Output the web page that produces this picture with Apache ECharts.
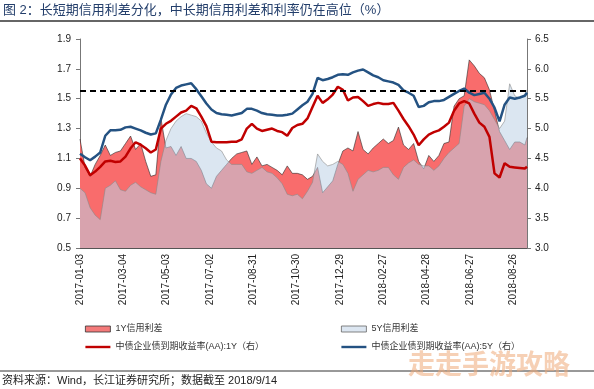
<!DOCTYPE html>
<html><head><meta charset="utf-8">
<script src="https://cdn.jsdelivr.net/npm/echarts@6/dist/echarts.min.js"></script>
<style>html,body{margin:0;padding:0;background:#fff}#c{width:594px;height:389px}</style>
</head><body><div id="c"></div>
<script>
const dates = ['2017-01-03','2017-01-10','2017-01-17','2017-01-24','2017-01-31','2017-02-07','2017-02-14','2017-02-21','2017-02-28','2017-03-07',
'2017-03-14','2017-03-21','2017-03-28','2017-04-04','2017-04-11','2017-04-18','2017-04-25','2017-05-02','2017-05-09','2017-05-16',
'2017-05-23','2017-05-30','2017-06-06','2017-06-13','2017-06-20','2017-06-27','2017-07-04','2017-07-11','2017-07-18','2017-07-25',
'2017-08-01','2017-08-08','2017-08-15','2017-08-22','2017-08-29','2017-09-05','2017-09-12','2017-09-19','2017-09-26','2017-10-03',
'2017-10-10','2017-10-17','2017-10-24','2017-10-31','2017-11-07','2017-11-14','2017-11-21','2017-11-28','2017-12-05','2017-12-12',
'2017-12-19','2017-12-26','2018-01-02','2018-01-09','2018-01-16','2018-01-23','2018-01-30','2018-02-06','2018-02-13','2018-02-20',
'2018-02-27','2018-03-06','2018-03-13','2018-03-20','2018-03-27','2018-04-03','2018-04-10','2018-04-17','2018-04-24','2018-05-01',
'2018-05-08','2018-05-15','2018-05-22','2018-05-29','2018-06-05','2018-06-12','2018-06-19','2018-06-26','2018-07-03','2018-07-10',
'2018-07-17','2018-07-24','2018-07-31','2018-08-07','2018-08-14','2018-08-21','2018-08-28','2018-09-04','2018-09-11','2018-09-14'];

const spread1Y = [1.23,1.04,0.98,1.06,1.12,1.19,1.12,1.14,1.15,1.20,
1.25,1.16,1.20,1.08,0.98,0.99,1.37,1.17,1.18,1.12,
1.18,1.10,1.10,1.08,1.02,0.93,0.90,0.98,1.02,1.06,
1.10,1.13,1.14,1.15,1.06,1.11,1.05,1.06,1.04,1.02,
0.99,1.05,1.00,1.00,0.99,0.96,0.98,1.04,0.87,0.91,
0.95,1.06,1.15,1.17,1.15,1.28,1.16,1.13,1.17,1.20,
1.23,1.20,1.22,1.31,1.19,1.16,1.20,1.08,1.03,1.12,
1.08,1.12,1.20,1.21,1.45,1.50,1.52,1.76,1.72,1.67,
1.64,1.56,1.42,1.28,1.22,1.16,1.21,1.21,1.19,1.24];

const spread5Y = [0.90,0.87,0.77,0.72,0.69,0.90,0.92,0.95,0.89,0.88,
0.92,0.94,0.91,0.89,0.87,0.86,1.08,1.22,1.30,1.35,
1.38,1.40,1.39,1.38,1.35,1.27,1.21,1.17,1.15,1.09,
1.06,1.06,1.06,1.01,1.00,1.02,1.04,1.01,1.00,0.97,
0.93,0.86,0.85,0.86,0.83,0.88,0.94,1.13,1.08,1.05,
1.06,1.08,1.06,1.00,0.88,0.96,0.99,1.02,1.01,1.02,
1.04,1.04,0.99,0.96,1.04,1.07,1.09,1.06,1.05,1.05,
1.02,1.05,1.10,1.14,1.17,1.20,1.45,1.50,1.48,1.47,
1.46,1.42,1.36,1.30,1.35,1.60,1.52,1.50,1.53,1.56];

const yield1Y = [4.50,4.38,4.22,4.28,4.36,4.45,4.46,4.44,4.45,4.53,
4.67,4.77,4.73,4.67,4.60,4.65,5.00,5.08,5.13,5.20,
5.27,5.30,5.38,5.34,5.20,5.04,4.78,4.77,4.77,4.77,
4.78,4.78,4.82,5.00,5.08,5.00,4.96,4.98,5.00,4.96,
4.94,4.88,5.01,5.06,5.08,5.17,5.36,5.55,5.43,5.49,
5.57,5.70,5.65,5.47,5.52,5.53,5.46,5.38,5.41,5.43,
5.41,5.41,5.43,5.30,5.16,5.04,4.90,4.72,4.82,4.90,
4.94,4.97,5.03,5.10,5.30,5.42,5.46,5.42,5.25,5.10,
5.03,4.86,4.25,4.18,4.42,4.36,4.35,4.34,4.33,4.36];

const yield5Y = [4.58,4.52,4.47,4.53,4.60,4.88,4.97,4.97,4.98,5.02,
5.03,5.00,4.97,4.93,4.90,4.92,5.15,5.40,5.57,5.68,
5.72,5.74,5.76,5.66,5.54,5.42,5.32,5.26,5.24,5.23,
5.22,5.24,5.26,5.33,5.33,5.30,5.26,5.24,5.23,5.22,
5.22,5.23,5.25,5.32,5.39,5.45,5.58,5.85,5.81,5.83,
5.86,5.90,5.91,5.90,5.94,5.97,5.99,5.94,5.89,5.86,
5.81,5.79,5.77,5.73,5.64,5.60,5.55,5.36,5.38,5.44,
5.46,5.46,5.48,5.53,5.58,5.63,5.67,5.60,5.56,5.58,
5.60,5.50,5.35,5.12,5.40,5.52,5.50,5.52,5.55,5.60];

const dateTicks = ['2017-01-03','2017-03-04','2017-05-03','2017-07-02','2017-08-31','2017-10-30','2017-12-29','2018-02-27','2018-04-28','2018-06-27','2018-08-26'];
const leftTicks = [0.5,0.7,0.9,1.1,1.3,1.5,1.7,1.9];
const rightTicks = [3.0,3.5,4.0,4.5,5.0,5.5,6.0,6.5];
const refLevel = 1.555;
const seriesNames = ['1Y信用利差','5Y信用利差','中债企业债到期收益率(AA):1Y（右）','中债企业债到期收益率(AA):5Y（右）'];
const titleText = '图 2：长短期信用利差分化，中长期信用利差和利率仍在高位（%）';
const sourceText = '资料来源：Wind，长江证券研究所；数据截至 2018/9/14';
const watermarkText = '走走手游攻略';

const FONT = '"Liberation Sans", "Noto Sans CJK SC", sans-serif';
const DAY = 86400000;
function utc(s){ const p = s.split('-').map(Number); return Date.UTC(p[0], p[1]-1, p[2]); }
const T0 = utc(dates[0]);
function dayIndex(s){ return Math.round((utc(s) - T0) / DAY); }
function fmtDay(v){
  const d = new Date(T0 + Math.round(v) * DAY);
  const p = n => String(n).padStart(2,'0');
  return d.getUTCFullYear() + '-' + p(d.getUTCMonth()+1) + '-' + p(d.getUTCDate());
}
function pair(vals){ return dates.map((d,i)=>[dayIndex(d), vals[i]]); }
const xTickDays = dateTicks.map(dayIndex);

const chart = echarts.init(document.getElementById('c'), null, {renderer:'canvas'});
chart.setOption({
  animation:false,
  textStyle:{fontFamily:FONT},
  grid:{left:80,right:67,top:39,bottom:141,containLabel:false},
  xAxis:{
    type:'value',
    min:0,
    max:dayIndex(dates[dates.length-1]),
    axisLine:{show:true,onZero:false,lineStyle:{color:'#555',width:1}},
    axisTick:{show:true,inside:true,length:4,customValues:xTickDays,lineStyle:{color:'#555'}},
    axisLabel:{customValues:xTickDays,rotate:90,fontSize:10,color:'#222',margin:6,formatter:fmtDay,fontFamily:FONT},
    splitLine:{show:false}
  },
  yAxis:[{
    type:'value',min:0.5,max:1.9,position:'left',
    axisLine:{show:true,lineStyle:{color:'#777'}},
    axisTick:{show:true,length:4,customValues:leftTicks,lineStyle:{color:'#777'}},
    axisLabel:{customValues:leftTicks,fontSize:10,color:'#222',margin:9,formatter:v=>v.toFixed(1)},
    splitLine:{show:false}
  },{
    type:'value',min:3,max:6.5,interval:0.5,position:'right',
    axisLine:{show:true,lineStyle:{color:'#777'}},
    axisTick:{show:true,length:4,customValues:rightTicks,lineStyle:{color:'#777'}},
    axisLabel:{customValues:rightTicks,fontSize:10,color:'#222',margin:8,formatter:v=>v.toFixed(1)},
    splitLine:{show:false}
  }],
  legend:[{
    left:80,top:318,orient:'vertical',itemGap:6,itemWidth:25,itemHeight:6,
    textStyle:{fontSize:9,color:'#333',lineHeight:12},
    data:[{name:seriesNames[0],icon:'rect',itemStyle:{color:'#F47A7A',borderColor:'#333',borderWidth:0.8}},
          {name:seriesNames[2],icon:'path://M0,0H25V2.4H0Z',itemStyle:{color:'#C00000',borderWidth:0}}]
  },{
    left:336,top:318,orient:'vertical',itemGap:6,itemWidth:25,itemHeight:6,
    textStyle:{fontSize:9,color:'#333',lineHeight:12},
    data:[{name:seriesNames[1],icon:'rect',itemStyle:{color:'#DCE6F1',borderColor:'#666',borderWidth:0.8}},
          {name:seriesNames[3],icon:'path://M0,0H25V2.4H0Z',itemStyle:{color:'#245282',borderWidth:0}}]
  }],
  graphic:[
    {type:'text',left:3,top:4,style:{text:titleText,fontSize:13,fill:'#233E6B',fontFamily:FONT}},
    {type:'line',shape:{x1:0,y1:21,x2:594,y2:21},style:{stroke:'#333',lineWidth:1.5}},
    {type:'line',shape:{x1:0,y1:371,x2:594,y2:371},style:{stroke:'#333',lineWidth:1}},
    {type:'text',left:2,top:375,style:{text:sourceText,fontSize:11,fill:'#222',fontFamily:FONT}},
    {type:'text',left:408,top:350,z:100,style:{text:watermarkText,fontSize:27,fontWeight:'bold',fill:'rgba(238,170,120,0.55)',fontFamily:'"Noto Sans CJK SC", sans-serif'}}
  ],
  series:[{
    name:seriesNames[0],type:'line',yAxisIndex:0,data:pair(spread1Y),symbol:'none',z:1,
    lineStyle:{color:'#2a2a2a',width:0.6},itemStyle:{color:'#F96C6C'},
    areaStyle:{color:'#F96C6C',opacity:1,origin:'start'},
    markLine:{silent:true,symbol:['none','none'],label:{show:false},
      lineStyle:{color:'#000',type:[6,4],width:2},data:[{yAxis:refLevel}]}
  },{
    name:seriesNames[1],type:'line',yAxisIndex:0,data:pair(spread5Y),symbol:'none',z:2,
    lineStyle:{color:'#8a8a8a',width:0.6},itemStyle:{color:'#BED1E5'},
    areaStyle:{color:'rgba(190,209,229,0.55)',opacity:1,origin:'start'}
  },{
    name:seriesNames[2],type:'line',yAxisIndex:1,data:pair(yield1Y),symbol:'none',z:3,
    lineStyle:{color:'#C00000',width:2.5},itemStyle:{color:'#C00000'}
  },{
    name:seriesNames[3],type:'line',yAxisIndex:1,data:pair(yield5Y),symbol:'none',z:3,
    lineStyle:{color:'#245282',width:2.5},itemStyle:{color:'#245282'}
  }]
});
</script>
</body></html>
